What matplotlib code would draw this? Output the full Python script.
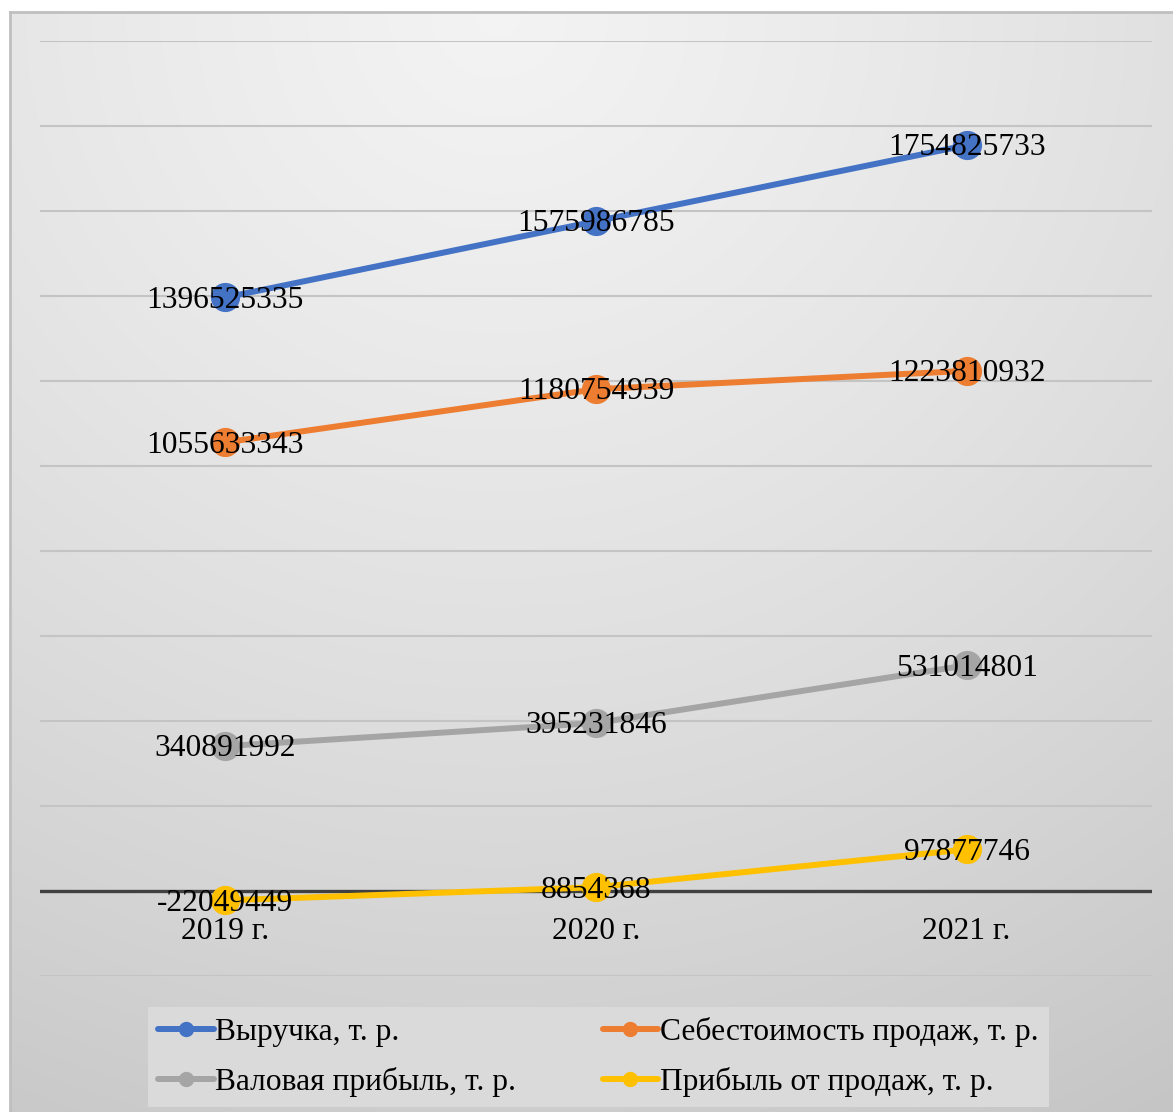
import numpy as np
import matplotlib
matplotlib.use("Agg")
import matplotlib.pyplot as plt
from matplotlib.lines import Line2D

plt.rcParams["font.family"] = ["Liberation Serif", "DejaVu Serif"]

years = ["2019 г.", "2020 г.", "2021 г."]
revenue = [1396525335, 1575986785, 1754825733]
cost = [1055633343, 1180754939, 1223810932]
gross = [340891992, 395231846, 531014801]
sales_profit = [-22049449, 8854368, 97877746]

series = [
    ("Выручка, т. р.", revenue, "#4472C4"),
    ("Себестоимость продаж, т. р.", cost, "#ED7D31"),
    ("Валовая прибыль, т. р.", gross, "#A5A5A5"),
    ("Прибыль от продаж, т. р.", sales_profit, "#FFC000"),
]

W, H = 1173, 1112
fig = plt.figure(figsize=(W / 100, H / 100), dpi=100)

# chart area background: soft gray gradient with a thin border on top/left
bg = fig.add_axes([10 / W, 0, (W - 10) / W, (H - 12) / H])
yy, xx = np.mgrid[0:1:300j, 0:1:300j]
d = np.sqrt((xx - 0.42) ** 2 + (yy * 1.0) ** 2)
img = np.clip(0.955 - 0.10 * d - 0.05 * d ** 2, 0, 1)
bg.imshow(np.dstack([img] * 3), extent=[0, 1, 0, 1], origin="upper",
          aspect="auto", interpolation="bilinear")
bg.set_xlim(0, 1); bg.set_ylim(0, 1)
bg.axis("off")
bg.plot([0, 0], [0, 1], color="#bfbfbf", lw=2, transform=bg.transAxes, clip_on=False)
bg.plot([0, 1], [1, 1], color="#bfbfbf", lw=2, transform=bg.transAxes, clip_on=False)

ax = fig.add_axes([40 / W, (H - 976) / H, (1152 - 40) / W, (976 - 41) / H])
ax.patch.set_alpha(0)
for sp in ax.spines.values():
    sp.set_visible(False)
ax.set_xlim(-0.5, 2.5)
ax.set_ylim(-2e8, 2e9)
ax.set_xticks([]); ax.set_yticks([])

for g in np.arange(-2e8, 2.0e9 + 1, 2e8):
    if abs(g) < 1:
        continue
    ax.axhline(g, color="#c4c4c4", lw=1.5, zorder=1)
ax.axhline(0, color="#404040", lw=2.4, zorder=2)

x = np.arange(len(years))
for name, vals, col in series:
    ax.plot(x, vals, color=col, lw=4.3, marker="o", ms=20,
            solid_capstyle="round", zorder=3)
    for xi, v in zip(x, vals):
        ax.annotate(str(v), xy=(xi, v), xytext=(0, -2), textcoords="offset points",
                    ha="center", va="center", fontsize=22.7, color="black",
                    zorder=5)

for xi, lab in zip(x, years):
    ax.annotate(lab, xy=(xi, 0), xytext=(0, -29.5), textcoords="offset points",
                ha="center", va="center", fontsize=22.7, color="black")

handles = [Line2D([], [], color=col, lw=4.3, marker="o", ms=10,
                  solid_capstyle="round") for _, _, col in series]
labels = [s[0] for s in series]
order = [0, 2, 1, 3]
leg = fig.legend([handles[i] for i in order], [labels[i] for i in order],
                 ncol=2, loc="upper left",
                 bbox_to_anchor=(148 / W, (H - 1007) / H),
                 fontsize=22.7, frameon=True, fancybox=False,
                 facecolor="#dadada", edgecolor="none", framealpha=1,
                 handlelength=1.75, handletextpad=0.05, columnspacing=2.75,
                 labelspacing=0.62, borderpad=0.33, borderaxespad=0)

fig.savefig("out.png", dpi=100)
